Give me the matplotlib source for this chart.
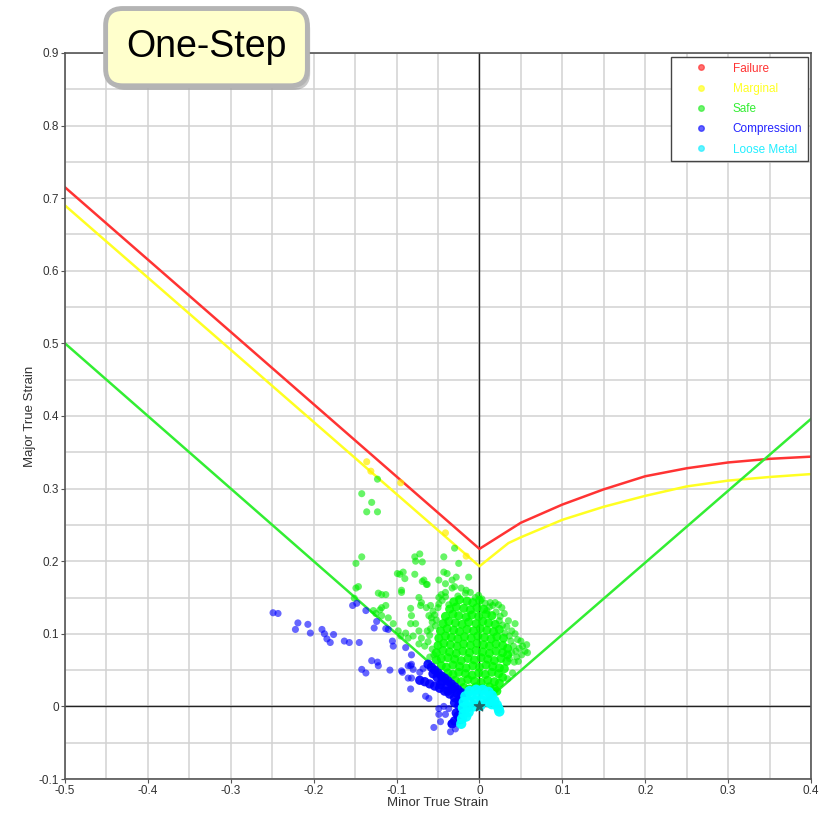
import matplotlib
matplotlib.use("Agg")
import matplotlib.pyplot as plt
from matplotlib.lines import Line2D
from matplotlib.ticker import MultipleLocator, FuncFormatter
from matplotlib import patheffects

plt.rcParams['font.family'] = ['Liberation Sans', 'DejaVu Sans']

# forming limit curves (minor strain, major strain)
fail_x = [-0.5, 0.0, 0.05, 0.1, 0.15, 0.2, 0.25, 0.3, 0.35, 0.4]
fail_y = [0.715, 0.217, 0.253, 0.278, 0.299, 0.317, 0.328, 0.336, 0.341, 0.344]
marg_x = [-0.5, 0.0, 0.035, 0.05, 0.1, 0.15, 0.2, 0.25, 0.3, 0.35, 0.4]
marg_y = [0.69, 0.193, 0.225, 0.233, 0.257, 0.275, 0.290, 0.303, 0.311, 0.316, 0.320]
safe_x = [-0.5, 0.0, 0.4]
safe_y = [0.5, 0.0, 0.396]

# safe (green) points - scattered ones
safe_pts_sparse = [
    (-0.142, 0.293), (-0.130, 0.281), (-0.136, 0.268), (-0.123, 0.268), (-0.123, 0.313),
    (-0.030, 0.218), (-0.043, 0.206), (-0.025, 0.197), (-0.013, 0.178),
    (-0.142, 0.206), (-0.149, 0.197),
    (-0.078, 0.206), (-0.072, 0.210), (-0.077, 0.200), (-0.069, 0.199),
    (-0.099, 0.183), (-0.096, 0.182), (-0.090, 0.176), (-0.078, 0.182),
    (-0.069, 0.172), (-0.063, 0.168),
    (-0.043, 0.185), (-0.039, 0.183), (-0.049, 0.174), (-0.041, 0.169), (-0.033, 0.174),
    (-0.028, 0.178), (-0.030, 0.165),
    (-0.146, 0.165), (-0.149, 0.163), (-0.151, 0.149),
    (-0.122, 0.156), (-0.118, 0.154), (-0.113, 0.154),
    (-0.118, 0.136), (-0.113, 0.139), (-0.120, 0.133), (-0.128, 0.132), (-0.125, 0.128),
    (-0.118, 0.125), (-0.104, 0.114), (-0.110, 0.122),
    (-0.094, 0.160), (-0.083, 0.135), (-0.082, 0.125),
    (-0.073, 0.150), (-0.070, 0.143), (-0.071, 0.139),
    (-0.067, 0.174), (-0.064, 0.168),
    (-0.064, 0.136), (-0.059, 0.139), (-0.061, 0.125), (-0.058, 0.122),
    (-0.098, 0.104), (-0.089, 0.101), (-0.086, 0.094), (-0.095, 0.097),
    (-0.077, 0.114), (-0.073, 0.104), (-0.070, 0.094), (-0.080, 0.097),
    (-0.046, 0.154), (-0.041, 0.157), (-0.033, 0.163), (-0.022, 0.163), (-0.016, 0.160),
    (-0.011, 0.157), (-0.017, 0.156), (-0.005, 0.150), (-0.001, 0.153),
    (-0.049, 0.150), (-0.092, 0.185), (-0.094, 0.157),
    (-0.083, 0.114), (-0.059, 0.107), (-0.053, 0.111), (-0.073, 0.086), (-0.066, 0.083),
    (0.007, 0.142), (0.013, 0.143), (0.019, 0.143), (0.023, 0.140), (0.027, 0.136),
    (0.035, 0.118), (0.043, 0.114), (0.039, 0.104), (0.043, 0.100), (0.055, 0.076),
    (0.058, 0.074), (0.057, 0.085), (0.050, 0.090), (0.048, 0.080), (0.045, 0.068),
    (0.030, 0.128), (0.025, 0.124), (0.033, 0.110), (0.046, 0.092), (0.051, 0.071),
    (-0.045, 0.146), (-0.050, 0.136), (-0.054, 0.126), (-0.057, 0.116), (-0.060, 0.098),
    (0.012, 0.137), (0.020, 0.130), (0.036, 0.097), (0.041, 0.083), (0.042, 0.061),
    (-0.056, 0.131), (-0.052, 0.119), (-0.063, 0.104), (-0.062, 0.089), (-0.057, 0.079),
    (-0.060, 0.068), (-0.055, 0.071), (-0.049, 0.141), (-0.041, 0.151), (0.003, 0.148),
    (0.016, 0.139), (0.024, 0.118), (0.031, 0.101), (0.038, 0.090), (0.039, 0.074),
    (0.044, 0.076), (0.036, 0.066), (0.047, 0.062), (0.040, 0.046), (0.034, 0.038),
    (-0.037, 0.140), (-0.026, 0.152), (0.009, 0.132), (0.028, 0.112), (0.052, 0.083),
]

# safe (green) points - dense core
safe_pts_core = [
    (-0.031, 0.144), (-0.024, 0.147), (-0.015, 0.145), (-0.008, 0.143), (0.000, 0.146),
    (-0.036, 0.134), (-0.028, 0.137), (-0.019, 0.135), (-0.011, 0.133), (-0.003, 0.136), (0.005, 0.134),
    (-0.041, 0.124), (-0.032, 0.127), (-0.025, 0.125), (-0.016, 0.123), (-0.009, 0.126),
    (-0.001, 0.124), (0.008, 0.127), (0.015, 0.125),
    (-0.044, 0.114), (-0.037, 0.117), (-0.029, 0.115), (-0.021, 0.113), (-0.013, 0.116),
    (-0.004, 0.114), (0.004, 0.117), (0.011, 0.115), (0.019, 0.113),
    (-0.047, 0.104), (-0.039, 0.107), (-0.031, 0.105), (-0.024, 0.103), (-0.015, 0.106),
    (-0.007, 0.104), (0.001, 0.107), (0.009, 0.105), (0.017, 0.103), (0.024, 0.106),
    (-0.049, 0.094), (-0.041, 0.097), (-0.034, 0.095), (-0.026, 0.093), (-0.018, 0.096),
    (-0.010, 0.094), (-0.002, 0.097), (0.006, 0.095), (0.014, 0.093), (0.021, 0.096), (0.029, 0.094),
    (-0.050, 0.084), (-0.043, 0.087), (-0.035, 0.085), (-0.027, 0.083), (-0.019, 0.086),
    (-0.011, 0.084), (-0.003, 0.087), (0.005, 0.085), (0.012, 0.083), (0.020, 0.086), (0.028, 0.084),
    (0.034, 0.080),
    (-0.052, 0.074), (-0.044, 0.077), (-0.036, 0.075), (-0.028, 0.073), (-0.020, 0.076),
    (-0.012, 0.074), (-0.004, 0.077), (0.004, 0.075), (0.012, 0.073), (0.020, 0.076), (0.028, 0.074), (0.034, 0.071),
    (-0.052, 0.064), (-0.046, 0.066), (-0.038, 0.067), (-0.030, 0.065), (-0.022, 0.063), (-0.014, 0.066),
    (-0.006, 0.064), (0.002, 0.067), (0.010, 0.065), (0.018, 0.063), (0.026, 0.066), (0.033, 0.062),
    (-0.046, 0.056), (-0.040, 0.054), (-0.032, 0.057), (-0.024, 0.055), (-0.016, 0.053), (-0.008, 0.056),
    (0.000, 0.054), (0.008, 0.057), (0.016, 0.055), (0.024, 0.053), (0.030, 0.052),
    (-0.038, 0.046), (-0.032, 0.044), (-0.025, 0.047), (-0.017, 0.045), (-0.009, 0.043), (-0.001, 0.046),
    (0.007, 0.044), (0.015, 0.047), (0.023, 0.045), (0.028, 0.040),
    (-0.029, 0.036), (-0.022, 0.034), (-0.014, 0.037), (-0.006, 0.035), (0.002, 0.033), (0.010, 0.036),
    (0.018, 0.034), (0.024, 0.032),
    (-0.019, 0.026), (-0.012, 0.024), (-0.004, 0.027), (0.004, 0.025), (0.012, 0.027), (0.018, 0.024),
    (0.021, 0.021), (0.016, 0.020),
]

# compression (blue) points - scattered ones
comp_pts_sparse = [
    (-0.249, 0.129), (-0.243, 0.128), (-0.219, 0.115), (-0.207, 0.113), (-0.222, 0.106), (-0.204, 0.101),
    (-0.190, 0.106), (-0.187, 0.100), (-0.184, 0.093), (-0.176, 0.099), (-0.180, 0.088),
    (-0.163, 0.090), (-0.157, 0.088), (-0.145, 0.088),
    (-0.153, 0.139), (-0.148, 0.142), (-0.137, 0.132),
    (-0.124, 0.117), (-0.127, 0.108), (-0.113, 0.107), (-0.110, 0.106),
    (-0.105, 0.090), (-0.104, 0.083), (-0.089, 0.081), (-0.082, 0.071),
    (-0.130, 0.063), (-0.123, 0.061), (-0.122, 0.056), (-0.142, 0.051), (-0.137, 0.046),
    (-0.108, 0.050), (-0.093, 0.047), (-0.086, 0.056), (-0.086, 0.039),
    (-0.082, 0.058), (-0.080, 0.051), (-0.094, 0.049), (-0.083, 0.056), (-0.082, 0.039),
    (-0.083, 0.024), (-0.061, 0.011), (-0.065, 0.014), (-0.049, -0.003), (-0.041, -0.011),
    (-0.055, -0.029), (-0.034, -0.024), (-0.029, -0.031), (-0.047, -0.021), (-0.037, -0.003),
    (-0.043, 0.000), (-0.035, -0.035), (-0.049, -0.011), (-0.072, 0.047), (-0.068, 0.052),
]

# compression (blue) points - dense wedge along the safe line
comp_pts_core = [
    (-0.062, 0.058), (-0.058, 0.054), (-0.054, 0.050), (-0.050, 0.046), (-0.046, 0.042), (-0.042, 0.039),
    (-0.038, 0.035), (-0.034, 0.031), (-0.030, 0.027), (-0.026, 0.023), (-0.022, 0.019), (-0.019, 0.015),
    (-0.056, 0.045), (-0.051, 0.040), (-0.045, 0.035), (-0.039, 0.029), (-0.033, 0.024), (-0.027, 0.018),
    (-0.022, 0.012), (-0.047, 0.030), (-0.038, 0.021),
    (-0.072, 0.036), (-0.066, 0.034), (-0.060, 0.031), (-0.054, 0.028), (-0.048, 0.025), (-0.042, 0.021),
    (-0.036, 0.017), (-0.030, 0.012), (-0.025, 0.008), (-0.030, 0.005), (-0.025, 0.001), (-0.022, -0.006),
    (-0.026, -0.013), (-0.023, -0.018), (-0.030, -0.020), (-0.028, -0.009), (-0.033, -0.024),
]

# loose metal (cyan) points
loose_pts = [
    (-0.012, 0.021), (-0.004, 0.023), (0.004, 0.023), (0.011, 0.020), (0.015, 0.015),
    (-0.017, 0.014), (-0.010, 0.015), (-0.002, 0.016), (0.006, 0.016), (0.013, 0.011), (0.018, 0.008),
    (-0.019, 0.006), (-0.013, 0.007), (-0.005, 0.008), (0.003, 0.008), (0.010, 0.006), (0.015, 0.003),
    (0.021, 0.002), (-0.020, -0.002), (-0.014, -0.001), (-0.007, 0.000), (0.001, 0.001),
    (-0.019, -0.010), (-0.013, -0.008), (-0.021, -0.017), (-0.016, -0.014), (-0.022, -0.024),
    (0.023, -0.003), (0.024, -0.007),
]

# marginal (yellow) points
marg_pts = [(-0.136, 0.337), (-0.131, 0.324), (-0.095, 0.308), (-0.041, 0.239), (-0.016, 0.207)]

legend_labels = ['Failure', 'Marginal', 'Safe', 'Compression', 'Loose Metal']
legend_colors = ['#ff3333', '#ffff22', '#33ee33', '#2222ff', '#22eeff']

fig = plt.figure(figsize=(8.31, 8.13), dpi=100)
ax = fig.add_axes([65 / 831, 1 - 779 / 813, 746 / 831, 726 / 813])
ax.set_xlim(-0.5, 0.4)
ax.set_ylim(-0.1, 0.9)

ax.xaxis.set_major_locator(MultipleLocator(0.1))
ax.yaxis.set_major_locator(MultipleLocator(0.1))
ax.xaxis.set_minor_locator(MultipleLocator(0.05))
ax.yaxis.set_minor_locator(MultipleLocator(0.05))
fmt = FuncFormatter(lambda v, p: '0' if abs(v) < 1e-9 else f'{v:.1f}')
ax.xaxis.set_major_formatter(fmt)
ax.yaxis.set_major_formatter(fmt)
ax.grid(True, which='both', color='#d2d2d2', lw=1.1, zorder=0)
ax.set_axisbelow(True)
ax.tick_params(which='major', length=3, width=0.8, color='#555555', labelsize=8.5,
               labelcolor='#333333', pad=1.5)
ax.tick_params(which='minor', length=0)
for s in ax.spines.values():
    s.set_color('#555555')
    s.set_linewidth(1.2)

ax.axhline(0, color='#222222', lw=1.0, zorder=1)
ax.axvline(0, color='#222222', lw=1.0, zorder=1)

ax.plot(fail_x, fail_y, color='#ff3333', lw=1.8, zorder=2)
ax.plot(marg_x, marg_y, color='#ffff22', lw=1.8, zorder=2)
ax.plot(safe_x, safe_y, color='#33ee33', lw=1.8, zorder=2)


def scat(pts, color, alpha, s=26, z=3):
    xs = [p[0] for p in pts]
    ys = [p[1] for p in pts]
    ax.scatter(xs, ys, s=s, color=color, alpha=alpha, edgecolors='none', zorder=z)


scat(safe_pts_sparse, '#00ee00', 0.6)
scat(safe_pts_core, '#00ff00', 0.85, s=42)
scat(comp_pts_sparse, '#0000ff', 0.6)
scat(comp_pts_core, '#0000ff', 0.9, s=45)
scat(loose_pts, '#00ffff', 0.95, s=55, z=4)
scat(marg_pts, '#ffee00', 0.7)
ax.scatter([0], [0], marker='*', s=60, color='#226666', zorder=5)

ax.set_xlabel('Minor True Strain', fontsize=9.5, color='#333333')
ax.set_ylabel('Major True Strain', fontsize=9.5, color='#333333')
ax.xaxis.set_label_coords(0.5, -0.025)
ax.yaxis.set_label_coords(-0.039, 0.5)

handles = [Line2D([], [], marker='o', ls='none', color=c, markersize=4, alpha=0.7)
           for c in legend_colors]
leg = ax.legend(handles, legend_labels, loc='upper right', bbox_to_anchor=(0.996, 0.995),
                borderaxespad=0, fontsize=8.5, labelcolor=legend_colors, fancybox=False,
                edgecolor='#444444', framealpha=1, handlelength=4, handletextpad=0.7,
                labelspacing=0.7, borderpad=0.5)
leg.get_frame().set_linewidth(1.0)
leg.set_zorder(10)

# title badge
badge = fig.text(0.2485, 0.942, 'One-Step', fontsize=27, ha='center', va='center', color='black',
                 bbox=dict(boxstyle='round,pad=0.55,rounding_size=0.45', fc='#ffffcc',
                           ec='#b4b4b4', lw=3.5))
badge.get_bbox_patch().set_path_effects([
    patheffects.withSimplePatchShadow(offset=(2, -3), shadow_rgbFace='#777777', alpha=0.4),
])

fig.savefig('out.png', dpi=100)
